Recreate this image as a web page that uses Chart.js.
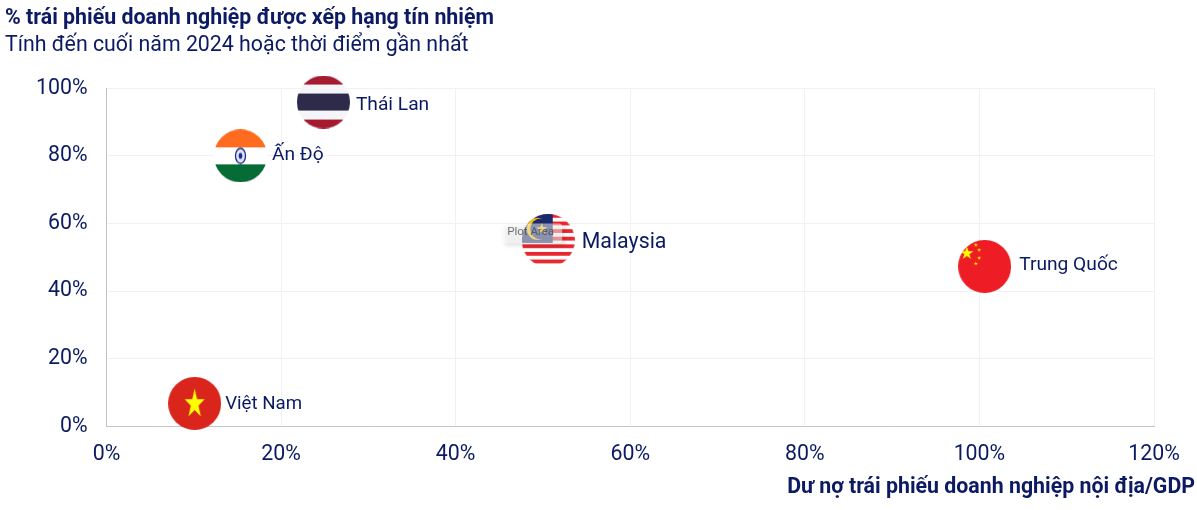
<!DOCTYPE html>
<html>
<head>
<meta charset="utf-8">
<script src="https://cdn.jsdelivr.net/npm/chart.js@4"></script>
<style>
  html, body { margin: 0; padding: 0; background: #fff; overflow: hidden; }
  #wrap { position: relative; width: 1197px; height: 510px; }
  canvas { display: block; }
</style>
</head>
<body>
<div id="wrap"><canvas id="bondChart" width="1197" height="510"></canvas></div>
<script>
const countries = ['Việt Nam', 'Ấn Độ', 'Thái Lan', 'Malaysia', 'Trung Quốc'];
const debtToGdp = [10.1, 15.35, 24.85, 50.6, 100.6];
const ratedShare = [6.8, 80.0, 95.9, 55.0, 47.3];

const chartTitle = '% trái phiếu doanh nghiệp được xếp hạng tín nhiệm';
const chartSubtitle = 'Tính đến cuối năm 2024 hoặc thời điểm gần nhất';
const xAxisTitle = 'Dư nợ trái phiếu doanh nghiệp nội địa/GDP';

const NAVY = '#0b1a63';
const FONT_SIZE = 21.33;
const FLAG_SIZE = 53;

function star(ctx, cx, cy, r, color, sx) {
    const xScale = sx || 1;
    ctx.fillStyle = color;
    ctx.beginPath();
    for (let i = 0; i < 10; i++) {
        const rad = i % 2 ? r * 0.382 : r;
        const a = -Math.PI / 2 + i * Math.PI / 5;
        ctx.lineTo(cx + rad * Math.cos(a) * xScale, cy + rad * Math.sin(a));
    }
    ctx.closePath();
    ctx.fill();
}

// paint is called with the context already clipped to the circle
function makeFlag(paint) {
    const c = document.createElement('canvas');
    c.width = FLAG_SIZE;
    c.height = FLAG_SIZE;
    const ctx = c.getContext('2d');
    ctx.beginPath();
    ctx.arc(FLAG_SIZE / 2, FLAG_SIZE / 2, FLAG_SIZE / 2, 0, Math.PI * 2);
    ctx.clip();
    paint(ctx, FLAG_SIZE);
    return c;
}

const vietnamFlag = makeFlag((ctx, s) => {
    ctx.fillStyle = '#da251d';
    ctx.fillRect(0, 0, s, s);
    star(ctx, s / 2, 27, 15.5, '#ffff00', 0.68);
});

const indiaFlag = makeFlag((ctx, s) => {
    ctx.fillStyle = '#ffffff';
    ctx.fillRect(0, 0, s, s);
    ctx.fillStyle = '#ff6b1f';
    ctx.fillRect(0, 0, s, 18);
    ctx.fillStyle = '#066b35';
    ctx.fillRect(0, 35, s, 18);
    ctx.strokeStyle = '#1c2a8a';
    ctx.lineWidth = 1.3;
    ctx.fillStyle = '#dfe3f5';
    ctx.beginPath();
    ctx.ellipse(s / 2, s / 2, 5, 7.5, 0, 0, Math.PI * 2);
    ctx.fill();
    ctx.stroke();
    ctx.fillStyle = '#1c2a8a';
    ctx.beginPath();
    ctx.ellipse(s / 2, s / 2, 1.8, 3, 0, 0, Math.PI * 2);
    ctx.fill();
});

const thaiFlag = makeFlag((ctx, s) => {
    ctx.fillStyle = '#f4f5f8';
    ctx.fillRect(0, 0, s, s);
    ctx.fillStyle = '#a51931';
    ctx.fillRect(0, 0, s, 9);
    ctx.fillRect(0, 44, s, 9);
    ctx.fillStyle = '#2d2a4a';
    ctx.fillRect(0, 18, s, 17);
});

const malaysiaFlag = makeFlag((ctx, s) => {
    ctx.fillStyle = '#ffffff';
    ctx.fillRect(0, 0, s, s);
    ctx.fillStyle = '#e8262e';
    for (let i = 0; i < 7; i++) {
        ctx.fillRect(0, i * 7.6, s, 3.8);
    }
    ctx.fillStyle = '#1a2a6c';
    ctx.fillRect(0, 0, 31, 29);
    ctx.fillStyle = '#ffcc00';
    ctx.beginPath();
    ctx.arc(16, 15, 11, 0, Math.PI * 2);
    ctx.fill();
    ctx.fillStyle = '#1a2a6c';
    ctx.beginPath();
    ctx.arc(19, 15, 10.5, 0, Math.PI * 2);
    ctx.fill();
    star(ctx, 20, 15, 6, '#ffcc00');
});

const chinaFlag = makeFlag((ctx, s) => {
    ctx.fillStyle = '#ee1c25';
    ctx.fillRect(0, 0, s, s);
    star(ctx, 8.7, 13.3, 7, '#ffff00');
    star(ctx, 17.7, 5, 2.3, '#ffde00');
    star(ctx, 21, 10, 2.3, '#ffde00');
    star(ctx, 21, 18, 2.3, '#ffde00');
    star(ctx, 17.7, 23.7, 2.3, '#ffde00');
});

const flags = [vietnamFlag, indiaFlag, thaiFlag, malaysiaFlag, chinaFlag];

// label look for each country, same order as countries
const labelLook = [
    { size: 18.7, dx: 30.5, dy: 1 },
    { size: 19.2, dx: 31.5, dy: -1 },
    { size: 19.2, dx: 32.5, dy: 3 },
    { size: FONT_SIZE, dx: 33.5, dy: 2 },
    { size: 19.2, dx: 34.5, dy: -1 }
];

const pointLabels = {
    id: 'pointLabels',
    afterDatasetsDraw(chart) {
        const { ctx, scales } = chart;
        ctx.save();
        ctx.fillStyle = NAVY;
        ctx.textAlign = 'left';
        ctx.textBaseline = 'middle';
        countries.forEach((name, i) => {
            const look = labelLook[i];
            ctx.font = look.size + 'px Roboto';
            const px = scales.x.getPixelForValue(debtToGdp[i]);
            const py = scales.y.getPixelForValue(ratedShare[i]);
            ctx.fillText(name, px + look.dx, py + look.dy);
        });
        ctx.restore();
    }
};

// axis title runs past the plot area up to the canvas edge, so it is drawn by hand
const xTitlePlugin = {
    id: 'xTitlePlugin',
    afterDraw(chart) {
        const { ctx } = chart;
        ctx.save();
        ctx.fillStyle = NAVY;
        ctx.font = 'bold ' + FONT_SIZE + 'px Roboto';
        ctx.textAlign = 'right';
        ctx.textBaseline = 'middle';
        ctx.fillText(xAxisTitle, chart.width - 2, chart.height - 22);
        ctx.restore();
    }
};

// small "Plot Area" hover hint that sits over the Malaysia marker in the source image
const plotAreaHint = {
    id: 'plotAreaHint',
    afterDraw(chart) {
        const { ctx, scales } = chart;
        const px = scales.x.getPixelForValue(debtToGdp[3]);
        const py = scales.y.getPixelForValue(ratedShare[3]);
        ctx.save();
        ctx.shadowColor = 'rgba(0,0,0,0.25)';
        ctx.shadowBlur = 4;
        ctx.shadowOffsetX = 2;
        ctx.shadowOffsetY = 2;
        ctx.fillStyle = 'rgba(255,255,255,0.5)';
        ctx.beginPath();
        ctx.roundRect(px - 46, py - 17, 60, 20, 3);
        ctx.fill();
        ctx.restore();
        ctx.save();
        ctx.fillStyle = 'rgba(70,70,80,0.75)';
        ctx.font = '11.5px Roboto';
        ctx.textAlign = 'left';
        ctx.textBaseline = 'middle';
        ctx.fillText('Plot Area', px - 41, py - 8);
        ctx.restore();
    }
};

new Chart(document.getElementById('bondChart').getContext('2d'), {
    type: 'scatter',
    data: {
        datasets: [{
            data: debtToGdp.map((x, i) => ({ x: x, y: ratedShare[i] })),
            pointStyle: flags,
            pointRadius: FLAG_SIZE / 2,
            pointHoverRadius: FLAG_SIZE / 2,
            clip: false
        }]
    },
    options: {
        responsive: false,
        animation: false,
        layout: { padding: { left: 5, right: 43, top: 0, bottom: 28 } },
        plugins: {
            legend: { display: false },
            tooltip: { enabled: false },
            title: {
                display: true,
                text: chartTitle,
                align: 'start',
                color: NAVY,
                font: { family: 'Roboto', size: FONT_SIZE, weight: 'bold' },
                padding: { top: 6, bottom: 0 }
            },
            subtitle: {
                display: true,
                text: chartSubtitle,
                align: 'start',
                color: NAVY,
                font: { family: 'Roboto', size: FONT_SIZE },
                padding: { top: 1, bottom: 30 }
            }
        },
        scales: {
            x: {
                type: 'linear',
                min: 0,
                max: 120,
                ticks: {
                    stepSize: 20,
                    color: NAVY,
                    font: { family: 'Roboto', size: FONT_SIZE },
                    padding: 15,
                    maxRotation: 0,
                    callback: v => v + '%'
                },
                grid: { color: '#f1f1f3', drawTicks: false },
                border: { color: '#c4c4c8' }
            },
            y: {
                type: 'linear',
                min: 0,
                max: 100,
                afterFit(scale) { scale.width = 101.5; },
                ticks: {
                    stepSize: 20,
                    color: NAVY,
                    font: { family: 'Roboto', size: FONT_SIZE },
                    padding: 19,
                    callback: v => v + '%'
                },
                grid: { color: '#f1f1f3', drawTicks: false },
                border: { color: '#c4c4c8' }
            }
        }
    },
    plugins: [pointLabels, xTitlePlugin, plotAreaHint]
});
</script>
</body>
</html>
